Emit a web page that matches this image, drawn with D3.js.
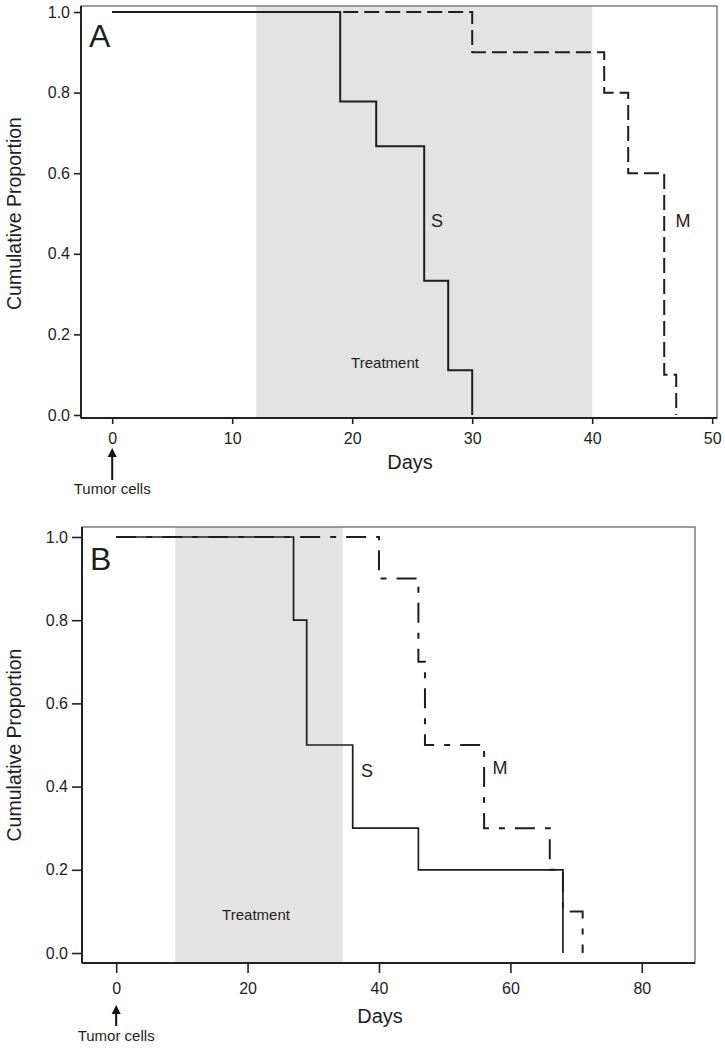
<!DOCTYPE html>
<html>
<head>
<meta charset="utf-8">
<script src="https://cdn.jsdelivr.net/npm/d3@7"></script>
<style>
  html, body { margin: 0; padding: 0; background: #fff; }
  svg { display: block; }
  text { font-family: "Liberation Sans", Arial, Helvetica, sans-serif; fill: #1e1e1e; }
</style>
</head>
<body>
<svg id="chart" width="725" height="1050"></svg>
<script>
// ---------- DATA ----------
const yTickValues = [0, 0.2, 0.4, 0.6, 0.8, 1.0];

// Panel A
const panelA_xTicks = [0, 10, 20, 30, 40, 50];
const panelA_treatment = [12, 40];
const panelA_S_days = [0, 19, 22, 26, 28, 30];
const panelA_S_surv = [1, 0.778, 0.667, 0.333, 0.111, 0];
const panelA_M_days = [0, 30, 41, 43, 46, 47];
const panelA_M_surv = [1, 0.9, 0.8, 0.6, 0.1, 0];

// Panel B
const panelB_xTicks = [0, 20, 40, 60, 80];
const panelB_treatment = [9, 34.5];
const panelB_S_days = [0, 27, 29, 36, 46, 68];
const panelB_S_surv = [1, 0.8, 0.5, 0.3, 0.2, 0];
const panelB_M_days = [0, 40, 46, 47, 56, 66, 68, 71];
const panelB_M_surv = [1, 0.9, 0.7, 0.5, 0.3, 0.2, 0.1, 0];

const panelLetters = ["A", "B"];
const seriesNames = ["S", "M"];
const treatmentLabel = "Treatment";
const xTitle = "Days";
const yTitle = "Cumulative Proportion";
const arrowLabel = "Tumor cells";

// ---------- LAYOUT ----------
const svg = d3.select("#chart");

function zip(days, surv) { return days.map((d, i) => ({ day: d, p: surv[i] })); }

function drawPanel(cfg) {
  const g = svg.append("g");
  const x = d3.scaleLinear().domain(cfg.xDomain).range([cfg.left, cfg.right]);
  const y = d3.scaleLinear().domain(cfg.yDomain).range([cfg.bottom, cfg.top]);

  // treatment band
  g.append("rect")
    .attr("x", x(cfg.treatment[0]))
    .attr("y", cfg.top)
    .attr("width", x(cfg.treatment[1]) - x(cfg.treatment[0]))
    .attr("height", cfg.bottom - cfg.top)
    .attr("fill", "#e3e3e3");

  g.append("text")
    .attr("x", cfg.treatLabelX)
    .attr("y", cfg.treatLabelY)
    .attr("text-anchor", "middle")
    .attr("font-size", 15)
    .text(treatmentLabel);

  const line = d3.line()
    .x(d => x(d.day))
    .y(d => y(d.p))
    .curve(d3.curveStepAfter);

  // M (dashed) first
  g.append("path")
    .datum(zip(cfg.mDays, cfg.mSurv))
    .attr("d", line)
    .attr("fill", "none")
    .attr("stroke", "#1e1e1e")
    .attr("stroke-width", cfg.mWidth)
    .attr("stroke-dasharray", cfg.mDash);

  g.append("path")
    .datum(zip(cfg.sDays, cfg.sSurv))
    .attr("d", line)
    .attr("fill", "none")
    .attr("stroke", "#1e1e1e")
    .attr("stroke-width", cfg.sWidth);

  // frame
  g.append("rect")
    .attr("x", cfg.left).attr("y", cfg.top)
    .attr("width", cfg.right - cfg.left).attr("height", cfg.bottom - cfg.top)
    .attr("fill", "none").attr("stroke", "#6a6a6a").attr("stroke-width", 1.3);

  // axes
  const yAxis = d3.axisLeft(y).tickValues(yTickValues)
    .tickFormat(d3.format(".1f")).tickSize(cfg.yTickLen).tickPadding(4);
  const ya = g.append("g").attr("transform", `translate(${cfg.left},0)`).call(yAxis);
  const xAxis = d3.axisBottom(x).tickValues(cfg.xTicks)
    .tickFormat(d3.format("d")).tickSize(cfg.xTickLen).tickPadding(cfg.xPad);
  const xa = g.append("g").attr("transform", `translate(0,${cfg.bottom})`).call(xAxis);
  [ya, xa].forEach(a => {
    a.select(".domain").attr("stroke", "#222").attr("stroke-width", 2);
    a.selectAll(".tick line").attr("stroke", "#222").attr("stroke-width", 1.6);
    a.selectAll(".tick text").attr("font-size", 16)
      .attr("font-family", '"Liberation Sans", Arial, sans-serif').attr("fill", "#1e1e1e");
  });
  ya.select(".domain").attr("d", `M0,${cfg.top}V${cfg.bottom}`);
  xa.select(".domain").attr("d", `M${cfg.left},0H${cfg.right}`);

  // titles
  g.append("text")
    .attr("transform", `translate(${cfg.yTitleX},${(y(0) + y(1)) / 2}) rotate(-90)`)
    .attr("text-anchor", "middle")
    .attr("font-size", 19.5)
    .text(yTitle);

  g.append("text")
    .attr("x", cfg.xTitleX).attr("y", cfg.xTitleY)
    .attr("text-anchor", "middle")
    .attr("font-size", 20)
    .text(xTitle);

  // panel letter
  g.append("text")
    .attr("x", cfg.left + 8).attr("y", cfg.letterY)
    .attr("font-size", 32)
    .text(cfg.letter);

  // series labels
  g.append("text").attr("x", cfg.sLabel[0]).attr("y", cfg.sLabel[1])
    .attr("text-anchor", "middle").attr("font-size", 18).text(seriesNames[0]);
  g.append("text").attr("x", cfg.mLabel[0]).attr("y", cfg.mLabel[1])
    .attr("text-anchor", "middle").attr("font-size", 18).text(seriesNames[1]);

  // arrow + label
  const ax = x(0);
  g.append("line")
    .attr("x1", ax).attr("x2", ax)
    .attr("y1", cfg.arrowTip + 6).attr("y2", cfg.arrowTail)
    .attr("stroke", "#111").attr("stroke-width", 2);
  g.append("path")
    .attr("d", `M${ax},${cfg.arrowTip}L${ax - 4.5},${cfg.arrowTip + 9}L${ax + 4.5},${cfg.arrowTip + 9}Z`)
    .attr("fill", "#111");
  g.append("text")
    .attr("x", ax).attr("y", cfg.arrowTextY)
    .attr("text-anchor", "middle").attr("font-size", 15)
    .text(arrowLabel);
}

drawPanel({
  letter: panelLetters[0],
  left: 81, right: 717, top: 6, bottom: 418,
  xDomain: [-2.6, 50.4], yDomain: [-0.0075, 1.015],
  xTicks: panelA_xTicks, treatment: panelA_treatment,
  sDays: panelA_S_days, sSurv: panelA_S_surv,
  mDays: panelA_M_days, mSurv: panelA_M_surv,
  sWidth: 2, mWidth: 2, mDash: "15,6",
  yTickLen: 7, xTickLen: 6, xPad: 8.5,
  treatLabelX: 385, treatLabelY: 368,
  yTitleX: 21, xTitleX: 410, xTitleY: 469,
  letterY: 47,
  sLabel: [437, 227], mLabel: [683, 227],
  arrowTip: 448, arrowTail: 480, arrowTextY: 494
});

drawPanel({
  letter: panelLetters[1],
  left: 82, right: 695, top: 527, bottom: 963,
  xDomain: [-5.2, 88.1], yDomain: [-0.024, 1.024],
  xTicks: panelB_xTicks, treatment: panelB_treatment,
  sDays: panelB_S_days, sSurv: panelB_S_surv,
  mDays: panelB_M_days, mSurv: panelB_M_surv,
  sWidth: 1.7, mWidth: 2, mDash: "20,10,6,10",
  yTickLen: 10, xTickLen: 10, xPad: 9.5,
  treatLabelX: 256, treatLabelY: 920,
  yTitleX: 21, xTitleX: 380, xTitleY: 1023,
  letterY: 570,
  sLabel: [367, 777], mLabel: [500, 774],
  arrowTip: 1005, arrowTail: 1026, arrowTextY: 1041
});
</script>
</body>
</html>
